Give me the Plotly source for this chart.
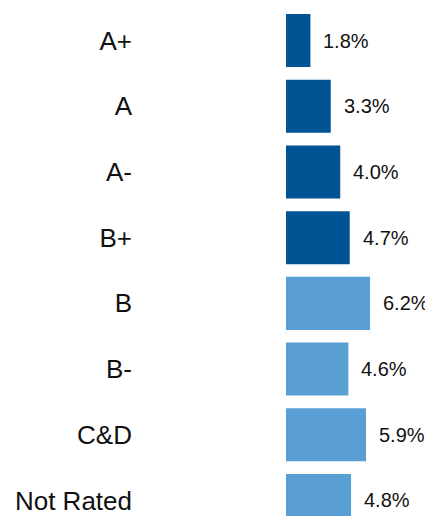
import plotly.graph_objects as go

categories = ["A+", "A", "A-", "B+", "B", "B-", "C&D", "Not Rated"]
values = [1.8, 3.3, 4.0, 4.7, 6.2, 4.6, 5.9, 4.8]
value_labels = ["1.8%", "3.3%", "4.0%", "4.7%", "6.2%", "4.6%", "5.9%", "4.8%"]
bar_colors = ["#005494", "#005494", "#005494", "#005494",
              "#5A9FD4", "#5A9FD4", "#5A9FD4", "#5A9FD4"]

fig = go.Figure()
fig.add_trace(go.Bar(
    x=values, y=categories, orientation="h",
    marker=dict(color=bar_colors, line=dict(width=0)),
    width=0.807, hoverinfo="skip",
))

for c, v, t in zip(categories, values, value_labels):
    fig.add_annotation(x=v, y=c, xref="x", yref="y", text=t, showarrow=False,
                       xanchor="left", yanchor="middle", xshift=11,
                       font=dict(family="Liberation Sans, Arial", size=20, color="#111111"))

# page body has an 8px default margin, so the figure is sized to fit the window
fig.update_layout(
    width=425, height=508,
    margin=dict(l=278, r=0, t=0, b=0),
    paper_bgcolor="white", plot_bgcolor="white",
    showlegend=False,
    xaxis=dict(range=[0, 10.84], visible=False, showgrid=False, zeroline=False),
    yaxis=dict(categoryorder="array", categoryarray=categories,
               range=[7.236, -0.495], showgrid=False, zeroline=False,
               showline=False, ticks="", ticklabelstandoff=153,
               tickfont=dict(family="Liberation Sans, Arial", size=26, color="#111111")),
)

fig.write_html("out.html")
